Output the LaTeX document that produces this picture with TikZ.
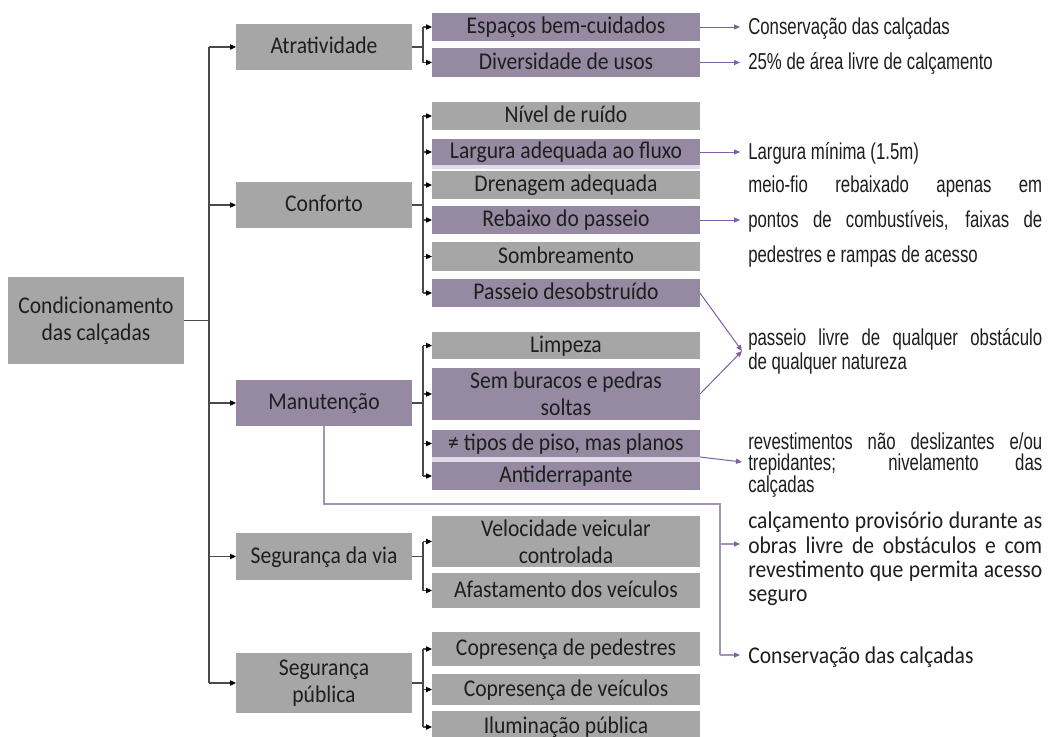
\documentclass[tikz,border=0pt]{standalone}
\usepackage{fontspec}
\setmainfont{Carlito}
\newfontfamily\boxfont[FakeStretch=0.9]{Carlito}
\newfontfamily\narrowfont[FakeStretch=0.73]{Liberation Sans}
\usetikzlibrary{arrows.meta}
\definecolor{boxgray}{HTML}{A6A6A6}
\definecolor{boxpurple}{HTML}{968AA2}
\definecolor{lav}{HTML}{E2D9EA}
\definecolor{arrpurple}{HTML}{7F5FA5}
\definecolor{linepurple}{HTML}{A292B8}
\definecolor{txt}{HTML}{1E1E1E}
\definecolor{linegray}{HTML}{4A4A4A}
\begin{document}
\begin{tikzpicture}[x=0.75pt,y=-0.75pt,
  lvl/.style={inner sep=0pt, outer sep=0pt, text=txt, font=\boxfont\fontsize{18pt}{20pt}\selectfont, align=center},
  lzero/.style={lvl, fill=boxgray, minimum width=132pt, minimum height=65.25pt},
  lone/.style={lvl, minimum width=132pt, minimum height=34.5pt},
  ltwo/.style={lvl, minimum width=201pt, minimum height=21pt},
  sl/.style={text height=13pt, text depth=3pt},
  gbox/.style={fill=boxgray},
  pbox/.style={fill=boxpurple},
  conn/.style={draw=linegray, line width=0.8pt},
  tarrow/.style={conn, -{Triangle[length=4.5pt,width=4pt,color=black]}},
  parrow/.style={draw=arrpurple, line width=0.75pt, -{Triangle[length=4.5pt,width=3.8pt]}},
  mline/.style={draw=linepurple, line width=0.8pt},
  marrow/.style={draw=linepurple, line width=0.8pt, -{Triangle[length=4.5pt,width=3.8pt,color=arrpurple]}},
  ntext/.style={inner sep=0pt, anchor=base west, text=txt, font=\narrowfont\fontsize{17.25pt}{18pt}\selectfont},
  ctext/.style={inner sep=0pt, anchor=base west, text=txt, font=\boxfont\fontsize{18pt}{18pt}\selectfont}
]
\useasboundingbox (0,0) rectangle (1050,736);
\fill[white] (0,0) rectangle (1050,736);
\clip (0,0) rectangle (1050,736);

% level 0
\node[lzero] (cond) at (96,320.5) {Condicionamento\\das calçadas};

% level 1
\node[lone,sl,gbox] (atr) at (324,47) {Atratividade};
\node[lone,sl,gbox] (conf) at (324,205) {Conforto};
\node[lone,sl,pbox] (man) at (324,403) {Manutenção};
\node[lone,sl,gbox,minimum height=35.25pt] (segvia) at (324,556.5) {Segurança da via};
\node[lone,gbox,minimum height=45pt] (segpub) at (324,683) {Segurança\\pública};

% level 2
\fill[lav] (432,165) rectangle (700,169);
\fill[lav] (432,457) rectangle (700,462);
\node[ltwo,sl,pbox] (esp) at (566,27) {Espaços bem-cuidados};
\node[ltwo,sl,pbox,minimum height=21.75pt] (div) at (566,62.5) {Diversidade de usos};
\node[ltwo,sl,gbox] (nivel) at (566,116) {Nível de ruído};
\node[ltwo,sl,pbox,minimum height=19.5pt] (larg) at (566,152) {Largura adequada ao fluxo};
\node[ltwo,sl,gbox] (dren) at (566,185) {Drenagem adequada};
\node[ltwo,sl,pbox] (reb) at (566,220) {Rebaixo do passeio};
\node[ltwo,sl,gbox,minimum height=21.75pt] (somb) at (566,256.5) {Sombreamento};
\node[ltwo,sl,pbox] (pass) at (566,293) {Passeio desobstruído};
\node[ltwo,sl,gbox,minimum height=20.25pt] (limp) at (566,345.5) {Limpeza};
\node[ltwo,pbox,minimum height=39pt] (sem) at (566,394) {Sem buracos e pedras\\soltas};
\node[ltwo,sl,pbox,minimum height=20.25pt] (dif) at (566,443.5) {≠ tipos de piso, mas planos};
\node[ltwo,sl,pbox] (anti) at (566,476) {Antiderrapante};
\node[ltwo,gbox,minimum height=38.25pt] (vel) at (566,541.5) {Velocidade veicular\\controlada};
\node[ltwo,sl,gbox,minimum height=26.25pt] (afa) at (566,590.5) {Afastamento dos veículos};
\node[ltwo,sl,gbox,minimum height=25.5pt] (cped) at (566,649) {Copresença de pedestres};
\node[ltwo,sl,gbox,minimum height=23.25pt] (cvei) at (566,689.5) {Copresença de veículos};
\node[ltwo,sl,gbox,minimum height=24pt] (ilum) at (566,727) {Iluminação pública};

% trunk
\coordinate (tr) at (209,0);
\draw[conn] (cond.east) -- (cond.east -| tr);
\draw[conn] (atr.west -| tr) -- (segpub.west -| tr);
\foreach \n in {atr,conf,man,segvia,segpub}
  \draw[tarrow] (\n.west -| tr) -- (\n.west);

% branches
\coordinate (br) at (423,0);
\draw[conn] (atr.east) -- (atr.east -| br);
\draw[conn] (esp.west -| br) -- (div.west -| br);
\foreach \n in {esp,div} \draw[tarrow] (\n.west -| br) -- (\n.west);
\draw[conn] (conf.east) -- (conf.east -| br);
\draw[conn] (nivel.west -| br) -- (pass.west -| br);
\foreach \n in {nivel,larg,dren,reb,somb,pass} \draw[tarrow] (\n.west -| br) -- (\n.west);
\draw[conn] (man.east) -- (man.east -| br);
\draw[conn] (limp.west -| br) -- (anti.west -| br);
\foreach \n in {limp,sem,dif,anti} \draw[tarrow] (\n.west -| br) -- (\n.west);
\draw[conn] (segvia.east) -- (segvia.east -| br);
\draw[conn] (vel.west -| br) -- (afa.west -| br);
\foreach \n in {vel,afa} \draw[tarrow] (\n.west -| br) -- (\n.west);
\draw[conn] (segpub.east) -- (segpub.east -| br);
\draw[conn] (cped.west -| br) -- (ilum.west -| br);
\foreach \n in {cped,cvei,ilum} \draw[tarrow] (\n.west -| br) -- (\n.west);

% right texts
\node[ntext] (t1) at (748,34) {Conservação das calçadas};
\node[ntext] (t2) at (748,69.5) {25\% de área livre de calçamento};
\node[ntext] (t3) at (748,159) {Largura mínima (1.5m)};
\node[ntext] (t4a) at (748,192) {\makebox[220.5pt][s]{meio-fio rebaixado apenas em}};
\node[ntext] (t4b) at (748,227) {\makebox[220.5pt][s]{pontos de combustíveis, faixas de}};
\node[ntext] (t4c) at (748,262) {pedestres e rampas de acesso};
\node[ntext] (t5a) at (748,345) {\makebox[220.5pt][s]{passeio livre de qualquer obstáculo}};
\node[ntext] (t5b) at (748,369) {de qualquer natureza};
\node[ntext] (t6a) at (748,449) {\makebox[220.5pt][s]{revestimentos não deslizantes e/ou}};
\node[ntext] (t6b) at (748,470) {\makebox[220.5pt][s]{trepidantes; nivelamento das}};
\node[ntext] (t6c) at (748,492) {calçadas};
\node[ctext] (t7a) at (748,528) {\makebox[220.5pt][s]{calçamento provisório durante as}};
\node[ctext] (t7b) at (748,553) {\makebox[220.5pt][s]{obras livre de obstáculos e com}};
\node[ctext] (t7c) at (748,577) {\makebox[220.5pt][s]{revestimento que permita acesso}};
\node[ctext] (t7d) at (748,601) {seguro};
\node[ctext] (t8) at (748,663) {Conservação das calçadas};

% right arrows
\coordinate (rx) at (740,0);
\draw[parrow] (esp.east) -- (esp.east -| rx);
\draw[parrow] (div.east) -- (div.east -| rx);
\draw[parrow] (larg.east) -- (larg.east -| rx);
\draw[parrow] (reb.east) -- (reb.east -| rx);
\coordinate (ptip) at (742,351);
\draw[parrow] (pass.east) -- (ptip);
\draw[parrow] (sem.east) -- (ptip);
\coordinate (rtip) at (742,462);
\draw[parrow] (dif.south east) -- (rtip);

% manutencao line
\coordinate (mh) at (720,504);
\coordinate (mv) at (720,655);
\coordinate (ctip) at (740,655);
\coordinate (ctip2) at (740,544);
\draw[mline] (man.south) |- (mh) -- (mv);
\draw[marrow] (mv) -- (ctip);
\draw[marrow] (mv |- ctip2) -- (ctip2);
\end{tikzpicture}
\end{document}
